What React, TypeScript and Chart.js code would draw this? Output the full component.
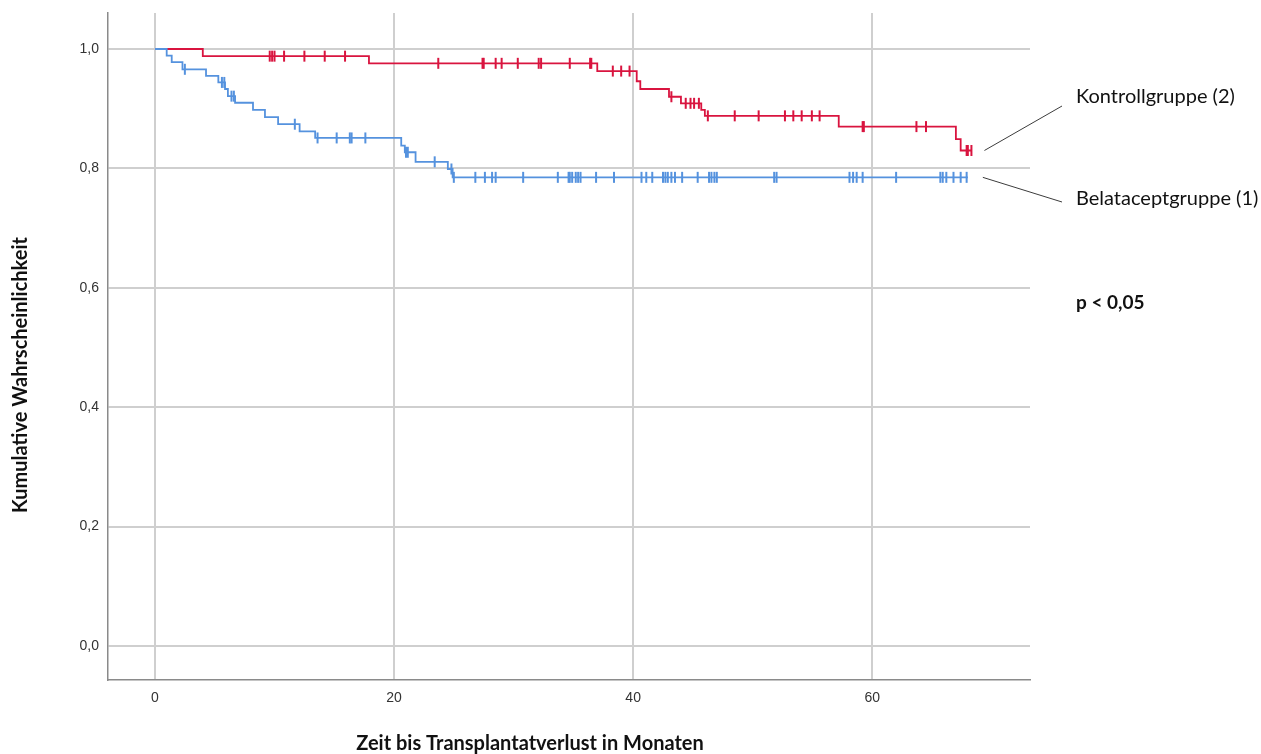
import React, { useEffect, useRef } from 'react';
import { Chart, registerables } from 'chart.js';

Chart.register(...registerables);

// ---- data ----
const xTickValues = [0, 20, 40, 60];
const yTickValues = [0, 0.2, 0.4, 0.6, 0.8, 1.0];

// Kontrollgruppe (2) – step function (time of drop, survival after drop)
const ctrlEventTimes = [0, 4.0, 17.9, 37.0, 40.3, 40.6, 43.0, 44.0, 45.7, 46.0, 57.2, 67.0, 67.4, 68.3];
const ctrlSurvival = [1.0, 0.988, 0.976, 0.963, 0.946, 0.933, 0.920, 0.909, 0.898, 0.888, 0.870, 0.849, 0.830, 0.830];
const ctrlCensorTimes = [
  9.6, 9.8, 10.0, 10.8, 12.5, 14.2, 15.9, 23.7, 27.4, 27.5, 28.5, 29.0, 30.35, 32.1, 32.3, 34.7,
  36.4, 36.5, 38.3, 39.0, 39.7, 43.2, 44.4, 44.8, 45.1, 45.5, 46.25, 48.5, 50.5, 52.7, 53.4, 54.1,
  54.95, 55.6, 59.2, 59.3, 63.7, 64.5, 67.9, 68.0, 68.3,
];

// Belataceptgruppe (1)
const belaEventTimes = [0, 0.98, 1.4, 2.3, 4.27, 5.3, 5.86, 6.1, 6.7, 8.2, 9.2, 10.3, 12.1, 13.4, 20.6, 20.9, 21.8, 24.5, 24.9, 68.0];
const belaSurvival = [1.0, 0.989, 0.978, 0.966, 0.955, 0.944, 0.933, 0.921, 0.910, 0.898, 0.886, 0.874, 0.862, 0.851, 0.838, 0.827, 0.811, 0.799, 0.785, 0.785];
const belaCensorTimes = [
  2.5, 5.6, 5.8, 6.4, 6.6, 11.7, 13.6, 15.2, 16.3, 16.45, 17.6, 21.0, 21.15, 23.4, 24.8, 25.0, 26.8,
  27.6, 28.2, 28.5, 30.8, 33.7, 34.6, 34.7, 34.9, 35.2, 35.4, 35.6, 36.9, 38.4, 40.7, 41.1, 41.6,
  42.5, 42.7, 42.9, 43.2, 43.5, 44.1, 45.4, 46.35, 46.55, 46.8, 47.0, 51.8, 52.0, 58.1, 58.4, 58.7,
  59.2, 62.0, 65.7, 65.9, 66.2, 66.8, 67.4, 67.9,
];

const labelCtrl = 'Kontrollgruppe (2)';
const labelBela = 'Belataceptgruppe (1)';
const pValueText = 'p < 0,05';
const yAxisTitle = 'Kumulative Wahrscheinlichkeit';
const xAxisTitle = 'Zeit bis Transplantatverlust in Monaten';

const RED = '#d9143f';
const BLUE = '#5592de';

function survivalAt(times: number[], surv: number[], t: number): number {
  let s = surv[0];
  for (let i = 0; i < times.length; i++) {
    if (times[i] <= t) s = surv[i];
  }
  return s;
}

const annotationPlugin = {
  id: 'kmAnnotations',
  afterDraw(chart: any) {
    const ctx = chart.ctx;
    const xs = chart.scales.x;
    const ys = chart.scales.y;
    ctx.save();
    // leader lines
    ctx.strokeStyle = '#3c3c3c';
    ctx.lineWidth = 1;
    const ctrlEndX = xs.getPixelForValue(ctrlEventTimes[ctrlEventTimes.length - 1]) + 13;
    const ctrlEndY = ys.getPixelForValue(ctrlSurvival[ctrlSurvival.length - 1]);
    const belaEndX = xs.getPixelForValue(belaEventTimes[belaEventTimes.length - 1]) + 15;
    const belaEndY = ys.getPixelForValue(belaSurvival[belaSurvival.length - 1]);
    ctx.beginPath();
    ctx.moveTo(ctrlEndX, ctrlEndY);
    ctx.lineTo(1062, 106);
    ctx.moveTo(belaEndX, belaEndY);
    ctx.lineTo(1062, 202);
    ctx.stroke();

    ctx.fillStyle = '#111';
    ctx.textAlign = 'left';
    ctx.textBaseline = 'middle';
    ctx.font = '20px Lato';
    ctx.fillText(labelCtrl, 1076, 97);
    ctx.fillText(labelBela, 1076, 199);
    ctx.font = 'bold 19px Lato';
    ctx.fillText(pValueText, 1076, 303);

    // axis titles
    ctx.textAlign = 'center';
    ctx.font = 'bold 20px Lato';
    ctx.fillText(xAxisTitle, 530, 744);
    ctx.save();
    ctx.translate(21, 375);
    ctx.rotate(-Math.PI / 2);
    ctx.font = 'bold 20px Lato';
    ctx.fillText(yAxisTitle, 0, 0);
    ctx.restore();
    ctx.restore();
  },
};

export default function App() {
  const canvasRef = useRef<HTMLCanvasElement | null>(null);

  useEffect(() => {
    document.body.style.margin = '0';
    document.body.style.overflow = 'hidden';
    const canvas = canvasRef.current;
    if (!canvas) return;

    const ctrlLine = ctrlEventTimes.map((t, i) => ({ x: t, y: ctrlSurvival[i] }));
    const belaLine = belaEventTimes.map((t, i) => ({ x: t, y: belaSurvival[i] }));
    const ctrlCens = ctrlCensorTimes.map((t) => ({ x: t, y: survivalAt(ctrlEventTimes, ctrlSurvival, t) }));
    const belaCens = belaCensorTimes.map((t) => ({ x: t, y: survivalAt(belaEventTimes, belaSurvival, t) }));

    const chart = new Chart(canvas, {
      type: 'line',
      data: {
        datasets: [
          {
            label: labelBela,
            data: belaLine,
            borderColor: BLUE,
            borderWidth: 1.8,
            stepped: 'before',
            pointRadius: 0,
            fill: false,
          },
          {
            label: labelCtrl,
            data: ctrlLine,
            borderColor: RED,
            borderWidth: 1.8,
            stepped: 'before',
            pointRadius: 0,
            fill: false,
          },
          {
            label: labelBela + ' zensiert',
            data: belaCens,
            showLine: false,
            pointStyle: 'line',
            pointRotation: 90,
            pointRadius: 5.5,
            pointBorderWidth: 2,
            pointBorderColor: BLUE,
            borderColor: BLUE,
          },
          {
            label: labelCtrl + ' zensiert',
            data: ctrlCens,
            showLine: false,
            pointStyle: 'line',
            pointRotation: 90,
            pointRadius: 5.5,
            pointBorderWidth: 2,
            pointBorderColor: RED,
            borderColor: RED,
          },
        ],
      },
      options: {
        responsive: false,
        animation: false,
        layout: { padding: { left: 0, right: 231, top: 13, bottom: 0 } },
        plugins: {
          legend: { display: false },
          tooltip: { enabled: false },
        },
        scales: {
          x: {
            type: 'linear',
            min: -3.93,
            max: 73.2,
            afterFit: (s: any) => { s.height = 74; },
            afterBuildTicks: (s: any) => { s.ticks = xTickValues.map((v) => ({ value: v })); },
            ticks: {
              padding: 10,
              color: '#333',
              font: { family: 'Liberation Sans', size: 14 },
              callback: (v: any) => String(v),
            },
            grid: { color: '#cfcfcf', lineWidth: 2, drawTicks: false },
            border: { display: true, color: '#8a8a8a', width: 1.5 },
          },
          y: {
            type: 'linear',
            min: -0.057,
            max: 1.0603,
            afterFit: (s: any) => { s.width = 108; s.paddingTop = 0; s.paddingBottom = 0; },
            afterBuildTicks: (s: any) => { s.ticks = yTickValues.map((v) => ({ value: v })); },
            ticks: {
              padding: 9,
              color: '#333',
              font: { family: 'Liberation Sans', size: 14 },
              callback: (v: any) => Number(v).toFixed(1).replace('.', ','),
            },
            grid: { color: '#cfcfcf', lineWidth: 2, drawTicks: false },
            border: { display: true, color: '#8a8a8a', width: 1.5 },
          },
        },
      },
      plugins: [annotationPlugin],
    });

    return () => chart.destroy();
  }, []);

  return (
    <div style={{ width: 1261, height: 754, background: '#fff' }}>
      <canvas ref={canvasRef} width={1261} height={754} style={{ display: 'block' }} />
    </div>
  );
}
